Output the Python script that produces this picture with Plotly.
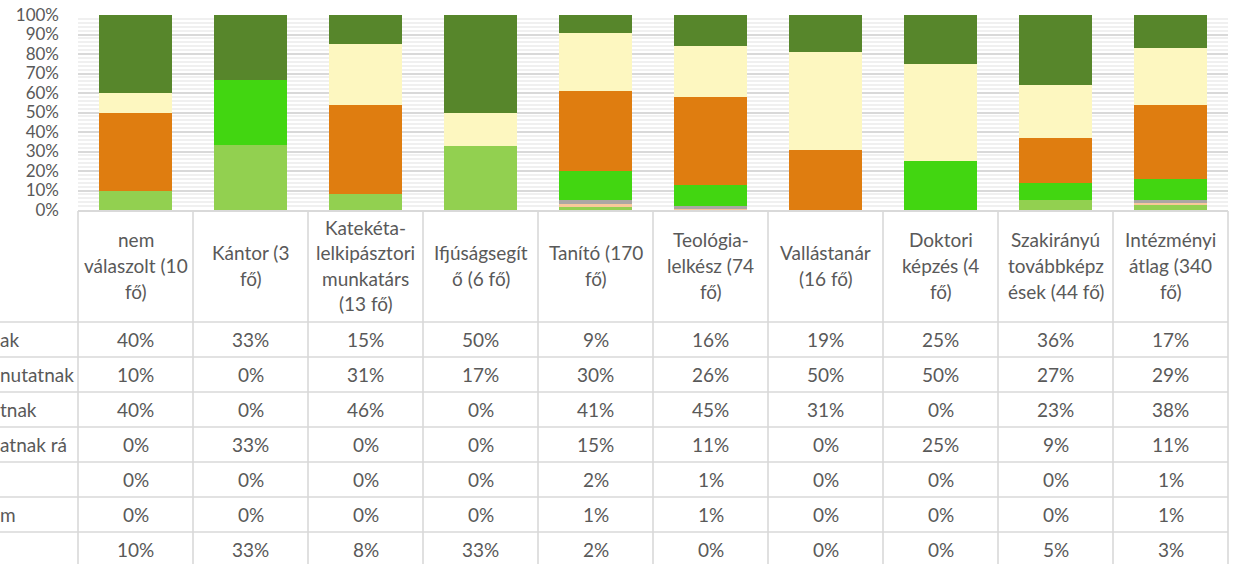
import plotly.graph_objects as go

# ---------------- data ----------------
categories = [
    "nem válaszolt (10 fő)", "Kántor (3 fő)", "Katekéta-lelkipásztori munkatárs (13 fő)",
    "Ifjúságsegítő (6 fő)", "Tanító (170 fő)", "Teológia-lelkész (74 fő)",
    "Vallástanár (16 fő)", "Doktori képzés (4 fő)", "Szakirányú továbbképzések (44 fő)",
    "Intézményi átlag (340 fő)",
]
header_labels = [
    ["nem", "válaszolt (10", "fő)"],
    ["Kántor (3", "fő)"],
    ["Katekéta-", "lelkipásztori", "munkatárs", "(13 fő)"],
    ["Ifjúságsegít", "ő (6 fő)"],
    ["Tanító (170", "fő)"],
    ["Teológia-", "lelkész (74", "fő)"],
    ["Vallástanár", "(16 fő)"],
    ["Doktori", "képzés (4", "fő)"],
    ["Szakirányú", "továbbképz", "ések (44 fő)"],
    ["Intézményi", "átlag (340", "fő)"],
]
# visible (truncated) row labels of the data table, top to bottom
row_labels = ["ak", "nutatnak", "tnak", "atnak rá", "", "m", ""]

row1 = [40, 33, 15, 50, 9, 16, 19, 25, 36, 17]
row2 = [10, 0, 31, 17, 30, 26, 50, 50, 27, 29]
row3 = [40, 0, 46, 0, 41, 45, 31, 0, 23, 38]
row4 = [0, 33, 0, 0, 15, 11, 0, 25, 9, 11]
row5 = [0, 0, 0, 0, 2, 1, 0, 0, 0, 1]
row6 = [0, 0, 0, 0, 1, 1, 0, 0, 0, 1]
row7 = [10, 33, 8, 33, 2, 0, 0, 0, 5, 3]
rows = [row1, row2, row3, row4, row5, row6, row7]

colors = ["#57862B", "#FDF7C0", "#DF7D10", "#42D611", "#ABA7A3", "#F8C99A", "#92D050"]

# ---------------- layout constants ----------------
W, H = 1234, 564
L, R, T, B = 78, 6, 15, 354
PH = H - T - B          # plot height in px
PW = W - L - R          # plot width in px
FONT = "Lato"
TXT = "#595959"
GRID = "#D9D9D9"
FS = 19

def py(pix):            # pixel y -> paper y
    return (H - B - pix) / PH

def px(pix):            # pixel x -> paper x
    return (pix - L) / PW

fig = go.Figure()
# stacking: last table row at the bottom
for i in range(len(rows) - 1, -1, -1):
    fig.add_trace(go.Bar(
        x=categories, y=rows[i], name=row_labels[i] or f"sor {i+1}",
        marker=dict(color=colors[i], line=dict(width=0)),
        hoverinfo="x+y",
    ))

shapes = []
n = len(categories)
for k in range(n + 1):
    xk = k / n
    shapes.append(dict(type="line", xref="paper", yref="paper",
                       x0=xk, x1=xk, y0=py(211), y1=py(H + 5),
                       line=dict(color=GRID, width=1.6)))
for j in range(len(rows)):
    yy = py(322 + 35 * j)
    shapes.append(dict(type="line", xref="paper", yref="paper",
                       x0=px(-5), x1=1, y0=yy, y1=yy,
                       line=dict(color=GRID, width=1.6)))

annotations = []
for c, lines in zip(categories, header_labels):
    nl = len(lines)
    for li, t in enumerate(lines):
        ypix = 265.5 + (li - (nl - 1) / 2) * 25.5
        annotations.append(dict(x=c, xref="x", y=py(ypix), yref="paper",
                                text=t, showarrow=False, xanchor="center", yanchor="middle",
                                font=dict(family=FONT, size=FS, color=TXT)))
for j, r in enumerate(rows):
    ypix = 339.5 + 35 * j
    for c, v in zip(categories, r):
        annotations.append(dict(x=c, xref="x", y=py(ypix), yref="paper",
                                text=f"{v}%", showarrow=False, xanchor="center", yanchor="middle",
                                font=dict(family=FONT, size=FS, color=TXT)))
    if row_labels[j]:
        annotations.append(dict(x=px(-2), xref="paper", y=py(ypix), yref="paper",
                                text=row_labels[j], showarrow=False, xanchor="left", yanchor="middle",
                                font=dict(family=FONT, size=FS, color=TXT)))

fig.update_layout(
    width=W, height=H,
    margin=dict(l=L, r=R, t=T, b=B),
    paper_bgcolor="white", plot_bgcolor="white",
    barmode="stack", barnorm="percent", bargap=0.36,
    showlegend=False,
    font=dict(family=FONT, color=TXT),
    shapes=shapes, annotations=annotations,
    xaxis=dict(showticklabels=False, showgrid=False, showline=True, linecolor=GRID,
               linewidth=1.6, ticks="", range=[-0.5, n - 0.5], fixedrange=True),
    yaxis=dict(range=[0, 100], dtick=10, ticksuffix="%", showline=False, zeroline=False,
               showgrid=True, gridcolor=GRID, gridwidth=1.5, ticks="",
               ticklabelstandoff=18, automargin=False,
               tickfont=dict(family=FONT, size=17, color=TXT),
               minor=dict(dtick=2, showgrid=True, gridcolor="#F0F0F0", gridwidth=1.5),
               fixedrange=True),
)

fig.write_html("out.html",
               config={"displayModeBar": False},
               post_script="document.body.style.margin='0';document.body.style.overflow='hidden';")
